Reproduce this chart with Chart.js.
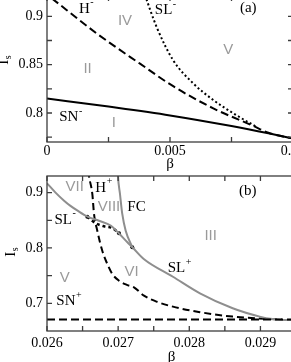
<!DOCTYPE html>
<html><head><meta charset="utf-8">
<script src="https://cdn.jsdelivr.net/npm/chart.js@4.4.1/dist/chart.umd.min.js"></script>
<style>
html,body{margin:0;padding:0;background:#fff;overflow:hidden;width:291px;height:362px;}
#wrap{position:relative;width:291px;height:362px;overflow:hidden;background:#fff;}
#cTop{position:absolute;left:0;top:-10px;}
#cBot{position:absolute;left:0;top:166px;}
</style></head><body>
<div id="wrap">
<canvas id="cBot" width="310" height="202"></canvas>
<canvas id="cTop" width="310" height="186"></canvas>
</div>
<script>
// ---------- Panel (a) ----------
const aSnX = [0, 0.0025, 0.005, 0.0075, 0.009, 0.0102];
const aSnY = [0.815, 0.8066, 0.7975, 0.7865, 0.779, 0.7725];
const aHX = [0.0002, 0.00202, 0.00378, 0.00513, 0.00676, 0.00839, 0.009, 0.0102];
const aHY = [0.9185, 0.8823, 0.851, 0.8277, 0.8048, 0.7866, 0.7795, 0.7725];
const aSlX = [0.00398, 0.00446, 0.00513, 0.00595, 0.00676, 0.00757, 0.0085];
const aSlY = [0.922, 0.8887, 0.8545, 0.8305, 0.8134, 0.7997, 0.7858];
const aXTicks = [0, 0.005, 0.01];
const aXTickLabels = ['0', '0.005', '0.01'];
const aXMinor = [0, 0.0025, 0.005, 0.0075, 0.01];
const aYTicks = [0.8, 0.85, 0.9];
const aYTickLabels = ['0.8', '0.85', '0.9'];
const aYMinor = [0.775, 0.8, 0.825, 0.85, 0.875, 0.9];

// ---------- Panel (b) ----------
const bSlX = [0.026, 0.02612, 0.02624, 0.02633, 0.02643, 0.02657, 0.02673, 0.0269, 0.02701, 0.02713, 0.0272, 0.02736, 0.02777, 0.02815, 0.02861, 0.02899, 0.02917, 0.0293, 0.0296];
const bSlY = [0.9168, 0.9, 0.8854, 0.876, 0.8673, 0.8565, 0.8492, 0.8402, 0.8265, 0.8102, 0.8012, 0.780, 0.748, 0.718, 0.691, 0.676, 0.6715, 0.670, 0.670];
const bFcX = [0.026995, 0.026998, 0.027026, 0.027058, 0.027106, 0.0272];
const bFcY = [0.94, 0.93, 0.8975, 0.8614, 0.8312, 0.8012];
const bHX = [0.02658, 0.02659, 0.026637, 0.026661, 0.026707, 0.026777, 0.026848, 0.026918, 0.027012, 0.027129, 0.027223, 0.027363, 0.02754, 0.02777, 0.02815, 0.02861, 0.02908, 0.0293];
const bHY = [0.94, 0.93, 0.8975, 0.8614, 0.8312, 0.795, 0.771, 0.753, 0.7409, 0.733, 0.729, 0.7138, 0.703, 0.694, 0.684, 0.676, 0.672, 0.671];
const bSegX = [0.026566, 0.026684, 0.026801, 0.026918, 0.027012];
const bSegY = [0.8565, 0.8446, 0.8391, 0.836, 0.8265];
const bDotX = [0.026566, 0.027012, 0.027199];
const bDotY = [0.8565, 0.8265, 0.8012];
const bSnX = [0.026, 0.0296];
const bSnY = [0.671, 0.671];
const bXTicks = [0.026, 0.027, 0.028, 0.029];
const bXTickLabels = ['0.026', '0.027', '0.028', '0.029'];
const bXMinor = [0.026, 0.0265, 0.027, 0.0275, 0.028, 0.0285, 0.029, 0.0295];
const bYTicks = [0.7, 0.8, 0.9];
const bYTickLabels = ['0.7', '0.8', '0.9'];
const bYMinor = [0.7, 0.75, 0.8, 0.85, 0.9];

// region / curve labels (data coordinates)
const aLabels = [
  {t:'H', sup:'-', x:0.00152, y:0.908},
  {t:'IV', gray:true, x:0.00317, y:0.895},
  {t:'SL', sup:'-', x:0.00474, y:0.906},
  {t:'(a)', x:0.00818, y:0.909},
  {t:'V', gray:true, x:0.00737, y:0.8655},
  {t:'II', gray:true, x:0.00165, y:0.8452},
  {t:'SN', sup:'-', x:0.000886, y:0.7956},
  {t:'I', gray:true, x:0.00272, y:0.7894}
];
const bLabels = [
  {t:'VII', gray:true, x:0.02639, y:0.9101},
  {t:'H', sup:'+', x:0.026755, y:0.9087},
  {t:'(b)', x:0.028823, y:0.9034},
  {t:'VIII', gray:true, x:0.026872, y:0.8735},
  {t:'FC', x:0.027258, y:0.8735},
  {t:'SL', sup:'-', x:0.026228, y:0.8509},
  {t:'III', gray:true, x:0.0283, y:0.8214},
  {t:'SL', sup:'+', x:0.027819, y:0.7629},
  {t:'VI', gray:true, x:0.027188, y:0.7575},
  {t:'V', gray:true, x:0.02625, y:0.7454},
  {t:'SN', sup:'+', x:0.026266, y:0.704}
];

const pts = (xs, ys) => xs.map((x, i) => ({x, y: ys[i]}));
const GRAY = '#8e8e8e';
const SERIF = '"Liberation Serif", "DejaVu Serif", serif';
const SANS = '"Liberation Sans", "DejaVu Sans", sans-serif';

function framePlugin(cfg) {
  return {
    id: 'frame',
    afterDatasetsDraw(chart) {
      const {ctx, chartArea, scales} = chart;
      const {left, right, top, bottom} = chartArea;
      const x = scales.x, y = scales.y;
      ctx.save();
      ctx.strokeStyle = '#3c3c3c';
      ctx.lineWidth = 1.3;
      ctx.setLineDash([]);
      ctx.beginPath();
      cfg.xMinor.forEach(v => {
        const px = x.getPixelForValue(v);
        ctx.moveTo(px, bottom); ctx.lineTo(px, bottom - 5);
        ctx.moveTo(px, top); ctx.lineTo(px, top + 5);
      });
      cfg.yMinor.forEach(v => {
        const py = y.getPixelForValue(v);
        ctx.moveTo(left, py); ctx.lineTo(left + 5, py);
        ctx.moveTo(right, py); ctx.lineTo(right - 5, py);
      });
      ctx.stroke();
      ctx.strokeRect(left, top, right - left, bottom - top);
      // labels
      cfg.labels.forEach(l => {
        const px = x.getPixelForValue(l.x), py = y.getPixelForValue(l.y);
        ctx.font = l.gray ? '15px ' + SANS : '15px ' + SERIF;
        ctx.fillStyle = l.gray ? '#9a9a9a' : '#000';
        ctx.textAlign = 'center';
        ctx.textBaseline = 'middle';
        ctx.fillText(l.t, px, py);
        if (l.sup) {
          const w = ctx.measureText(l.t).width;
          ctx.font = '10px ' + SERIF;
          ctx.textAlign = 'left';
          ctx.fillText(l.sup, px + w / 2 + 0.5, py - 6);
        }
      });
      // y axis title I_s (rotated)
      const ty = y.getPixelForValue(cfg.yTitleValue);
      ctx.translate(cfg.yTitleBaseX, ty);
      ctx.rotate(-Math.PI / 2);
      ctx.fillStyle = '#000';
      ctx.font = '15px ' + SERIF;
      ctx.textAlign = 'center';
      ctx.textBaseline = 'alphabetic';
      ctx.fillText('I', 0, 0);
      const iw = ctx.measureText('I').width;
      ctx.font = '10px ' + SERIF;
      ctx.textAlign = 'left';
      ctx.fillText('s', iw / 2 + 0.5, 3);
      ctx.restore();
    }
  };
}

function makeChart(id, o) {
  const tickFont = {family: SERIF, size: 14};
  return new Chart(document.getElementById(id), {
    type: 'scatter',
    data: {datasets: o.datasets},
    options: {
      responsive: false,
      animation: false,
      events: [],
      devicePixelRatio: 1,
      layout: {padding: o.padding},
      plugins: {legend: {display: false}, tooltip: {enabled: false}},
      elements: {point: {radius: 0}, line: {cubicInterpolationMode: 'monotone', borderWidth: 2}},
      scales: {
        x: {
          type: 'linear', min: o.xMin, max: o.xMax,
          grid: {display: false, drawTicks: false},
          border: {display: false},
          afterBuildTicks: s => { s.ticks = o.xTicks.map(v => ({value: v})); },
          afterFit: s => { s.height = o.xHeight; s.paddingLeft = 0; s.paddingRight = 0; s.paddingTop = 0; s.paddingBottom = 0; },
          ticks: {autoSkip: false, maxRotation: 0, minRotation: 0, padding: o.xTickPad, color: '#000', font: tickFont,
                  callback: (v, i) => o.xTickLabels[i]},
          title: {display: true, text: 'β', color: '#000', font: {family: SERIF, size: 15}, padding: {top: 0, bottom: o.titlePad}}
        },
        y: {
          type: 'linear', min: o.yMin, max: o.yMax,
          grid: {display: false, drawTicks: false},
          border: {display: false},
          afterBuildTicks: s => { s.ticks = o.yTicks.map(v => ({value: v})); },
          afterFit: s => { s.width = 47; s.paddingLeft = 0; s.paddingRight = 0; s.paddingTop = 0; s.paddingBottom = 0; },
          ticks: {autoSkip: false, padding: 4, color: '#000', font: tickFont,
                  callback: (v, i) => o.yTickLabels[i]}
        }
      }
    },
    plugins: [framePlugin(o.frame)]
  });
}

makeChart('cTop', {
  xMin: 0, xMax: 0.01, yMin: 0.77, yMax: 0.921,
  padding: {top: 6, right: 17, left: 0, bottom: 0},
  xHeight: 34, xTickPad: 1, titlePad: 3,
  xTicks: aXTicks, xTickLabels: aXTickLabels, yTicks: aYTicks, yTickLabels: aYTickLabels,
  frame: {xMinor: aXMinor, yMinor: aYMinor, labels: aLabels, yTitleValue: 0.8524, yTitleBaseX: 8},
  datasets: [
    {data: pts(aSnX, aSnY), showLine: true, borderColor: '#000', borderWidth: 2},
    {data: pts(aHX, aHY), showLine: true, borderColor: '#000', borderWidth: 2, borderDash: [8, 4]},
    {data: pts(aSlX, aSlY), showLine: true, borderColor: '#000', borderWidth: 2, borderDash: [2, 2.5]}
  ]
});

makeChart('cBot', {
  xMin: 0.026, xMax: 0.0295, yMin: 0.65, yMax: 0.93,
  padding: {top: 10, right: 14, left: 0, bottom: 0},
  xHeight: 37, xTickPad: 4, titlePad: 2,
  xTicks: bXTicks, xTickLabels: bXTickLabels, yTicks: bYTicks, yTickLabels: bYTickLabels,
  frame: {xMinor: bXMinor, yMinor: bYMinor, labels: bLabels, yTitleValue: 0.7886, yTitleBaseX: 15},
  datasets: [
    {data: pts(bSnX, bSnY), showLine: true, borderColor: '#000', borderWidth: 2, borderDash: [8, 4]},
    {data: pts(bSlX, bSlY), showLine: true, borderColor: GRAY, borderWidth: 2},
    {data: pts(bFcX, bFcY), showLine: true, borderColor: GRAY, borderWidth: 2},
    {data: pts(bHX, bHY), showLine: true, borderColor: '#000', borderWidth: 2, borderDash: [7, 4]},
    {data: pts(bSegX, bSegY), showLine: true, borderColor: '#000', borderWidth: 2.5, borderDash: [3, 3]},
    {data: pts(bDotX, bDotY), showLine: false, pointRadius: 2, pointBackgroundColor: '#000', pointBorderColor: '#000', pointBorderWidth: 0}
  ]
});
</script>
</body></html>
